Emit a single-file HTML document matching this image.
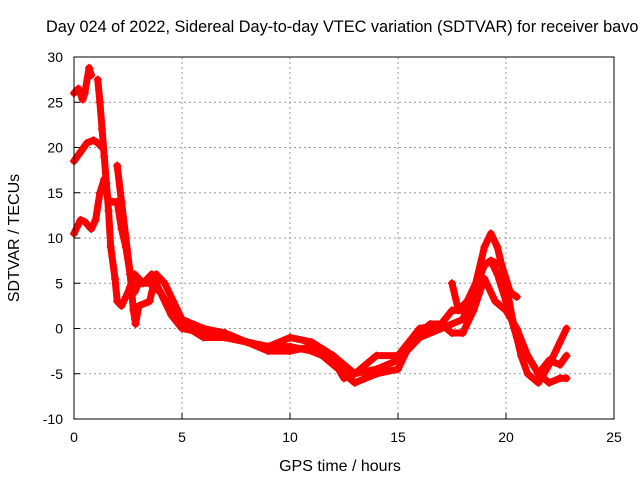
<!DOCTYPE html>
<html><head><meta charset="utf-8"><style>
body{margin:0;background:#fff;}
svg{display:block;font-family:"Liberation Sans",sans-serif;font-size:14px;}
</style></head><body>
<svg id="chart" width="640" height="480">
<text x="46" y="32" font-size="16.3">Day 024 of 2022, Sidereal Day-to-day VTEC variation (SDTVAR) for receiver bavo</text>
<text x="340" y="471" font-size="16" text-anchor="middle">GPS time / hours</text>
<text transform="translate(19,238) rotate(-90)" font-size="16" text-anchor="middle">SDTVAR / TECUs</text>
<g id="grid"></g><g id="ticks"></g><g id="series"></g>
<rect x="74" y="57" width="540" height="362" fill="none" stroke="#000" stroke-width="1"/>
</svg>
<script>
const xTicks=[0,5,10,15,20,25];
const yTicks=[-10,-5,0,5,10,15,20,25,30];
const s1t=[0,0.2,0.4,0.5,0.7,0.8,null,1.1,1.2,1.3,1.4,1.5,1.6,1.7,1.9,2.0,2.2,2.5,2.8,3.2,3.6,4.0,4.5,5,6,7,8,9,10,11,12,12.5,13,14,15,16,17,18,18.5,19,19.3,19.6,20,20.5,21,21.5,22,22.5,22.8];
const s1v=[26,26.5,25.3,26,28.8,28,null,27.5,25,22,19,16,13,9,5.5,3,2.5,4,6,5,6,4,2,0.5,-1,-1,-1.5,-2,-2,-2.5,-3.5,-5.5,-5,-4.5,-3.5,-1,0,1,4,7,7.5,6,3,-1,-3,-5,-6,-5.5,-5.5];
const s2t=[0,0.3,0.6,0.9,1.1,1.3,null,2.0,2.2,2.4,2.6,2.75,2.85,3.0,3.5,3.8,4.2,4.6,5,6,7,8,9,10,11,12,13,14,15,16,17,17.5,18,18.5,19,19.3,19.6,20,20.3,20.7,21,21.5,22,22.5,22.8];
const s2v=[18.5,19.5,20.5,20.8,20.5,20,null,18,14,10,6,2,0.5,2.5,3,6,5,3,1,0,-0.5,-1.5,-2,-1,-1.5,-3,-5,-3,-3,0,0.5,2,2,4,9,10.5,9,5,1,-3,-5,-6,-4,-1.5,0];
const s3t=[0,0.3,0.5,0.8,1.0,1.2,1.4,1.6,1.8,2.0,2.2,2.4,2.6,2.8,3.0,3.5,4,4.5,5,6,7,8,9,10,11,12,13,14,15,15.5,16,16.5,17,17.5,18,18.5,19,19.5,20,20.5,21,21.5,22,22.5,22.8];
const s3v=[10.5,12,11.8,11,12,15,16.5,14,14,14,11,9,6,4,5,5,4,1.5,0,-0.5,-1,-1.5,-2.5,-2.5,-2,-4,-6,-5,-4.5,-2,-0.5,0.5,0.5,-0.5,-0.5,2,5.5,3,2,0,-3,-5,-3.5,-4,-3];
const s4t=[17.5,17.8,18.2,18.6,19,19.3,19.8,20.2,20.5];
const s4v=[5,2,3,5,7,7.5,7,4,3.5];
const NS='http://www.w3.org/2000/svg';
const X=t=>74+t*21.6, Y=v=>57+(30-v)*9.05;
const grid=document.getElementById('grid'),ticks=document.getElementById('ticks'),ser=document.getElementById('series');
function mk(tag,at,p){const e=document.createElementNS(NS,tag);for(const k in at)e.setAttribute(k,at[k]);p.appendChild(e);return e;}
xTicks.forEach(t=>{
  if(t>0&&t<25){const g=mk('line',{x1:X(t),x2:X(t),y1:57,y2:419,stroke:'#999','stroke-dasharray':'2,3'},grid);
  
  }
  const tk=mk('line',{x1:X(t),x2:X(t),y1:419,y2:413,stroke:'#000'},ticks);
  
  
  const l=mk('text',{x:X(t),y:442,'text-anchor':'middle'},ticks);l.textContent=t;
  
  
});
yTicks.forEach(v=>{
  if(v>-10&&v<30){const g=mk('line',{x1:74,x2:614,y1:Y(v),y2:Y(v),stroke:'#999','stroke-dasharray':'2,3'},grid);
  
  }
  const tk=mk('line',{x1:74,x2:80,y1:Y(v),y2:Y(v),stroke:'#000'},ticks);
  
  
  const l=mk('text',{x:63,y:Y(v)+5,'text-anchor':'end'},ticks);l.textContent=v;
  
  
});
function draw(ts,vs,name){
  const g=mk('g',{},ser);
  
  
  let segs=[],cur=[];
  ts.forEach((t,i)=>{if(t===null){if(cur.length)segs.push(cur);cur=[];}else cur.push([X(t),Y(vs[i])]);});
  if(cur.length)segs.push(cur);
  segs.forEach(s=>{const p=mk('polyline',{points:s.map(q=>q.join(',')).join(' '),fill:'none',stroke:'#f00','stroke-width':7,'stroke-linejoin':'round','stroke-linecap':'round'},g);
    
    
    s.forEach(q=>{const m=mk('path',{d:`M${q[0]-4},${q[1]}h8M${q[0]},${q[1]-4}v8`,stroke:'#f00','stroke-width':1.5},g);
      
      });
  });
}
draw(s1t,s1v,'series-1');draw(s2t,s2v,'series-2');draw(s3t,s3v,'series-3');draw(s4t,s4v,'series-4');
</script>
</body></html>
